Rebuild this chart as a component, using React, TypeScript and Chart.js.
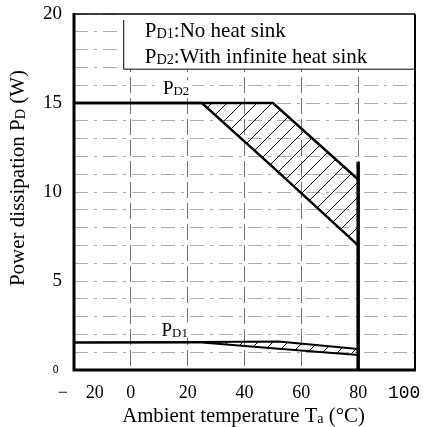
import { useEffect, useRef } from "react";
import { Chart, registerables } from "chart.js";

Chart.register(...registerables);

// ---- data ----
const xTickValues = [-20, 0, 20, 40, 60, 80, 100];
const xTickLabels = ["   −    20", "0", "20", "40", "60", "80", "100  "];
const yLabelValues = [0, 5, 10, 15, 20];
const yLabelTexts = ["0 ", "5", "10", "15", "20"];

// PD2 (with infinite heat sink): upper and lower boundary of hatched band
const pd2UpperTemp = [-20, 25, 50, 80];
const pd2UpperPower = [15, 15, 15, 10.7];
const pd2LowerTemp = [-20, 25, 50, 80];
const pd2LowerPower = [15, 15, 11.4, 7.0];

// PD1 (no heat sink)
const pd1UpperTemp = [-20, 25, 52, 80];
const pd1UpperPower = [1.55, 1.57, 1.6, 1.18];
const pd1LowerTemp = [-20, 25, 52, 80];
const pd1LowerPower = [1.55, 1.55, 1.2, 0.84];

// Cut-off at 80 °C
const cutoffTemp = [80, 80];
const cutoffPower = [0, 11.7];

const SERIF = "'Liberation Serif', 'Times New Roman', serif";

type Part = { t: string; sub?: boolean };

function richWidth(ctx: CanvasRenderingContext2D, parts: Part[], size: number) {
  const subSize = size * 0.68;
  return parts.reduce((w, p) => {
    ctx.font = `${p.sub ? subSize : size}px ${SERIF}`;
    return w + ctx.measureText(p.t).width;
  }, 0);
}

function drawRich(
  ctx: CanvasRenderingContext2D,
  parts: Part[],
  x: number,
  y: number,
  size: number,
  align: "left" | "center" = "left"
) {
  const subSize = size * 0.68;
  const total = richWidth(ctx, parts, size);
  let cx = align === "center" ? x - total / 2 : x;
  ctx.textAlign = "left";
  ctx.textBaseline = "alphabetic";
  ctx.fillStyle = "#000";
  parts.forEach((p) => {
    ctx.font = `${p.sub ? subSize : size}px ${SERIF}`;
    ctx.fillText(p.t, cx, p.sub ? y + size * 0.05 : y);
    cx += ctx.measureText(p.t).width;
  });
}

function makeHatch(): CanvasPattern | string {
  const s = 15;
  const c = document.createElement("canvas");
  c.width = s;
  c.height = s;
  const g = c.getContext("2d");
  if (!g) return "rgba(0,0,0,0.2)";
  g.strokeStyle = "#000";
  g.lineWidth = 1;
  g.beginPath();
  g.moveTo(0, s);
  g.lineTo(s, 0);
  g.moveTo(-s / 2, s / 2);
  g.lineTo(s / 2, -s / 2);
  g.moveTo(s / 2, s * 1.5);
  g.lineTo(s * 1.5, s / 2);
  g.stroke();
  return g.createPattern(c, "repeat") || "rgba(0,0,0,0.2)";
}

const pts = (xs: number[], ys: number[]) => xs.map((x, i) => ({ x, y: ys[i] }));

export default function App() {
  const ref = useRef<HTMLCanvasElement | null>(null);

  useEffect(() => {
    if (!ref.current) return;
    const hatch = makeHatch();

    const labelWithBg = (ctx: CanvasRenderingContext2D, parts: Part[], x: number, y: number, size: number) => {
      const w = richWidth(ctx, parts, size);
      ctx.fillStyle = "#fff";
      ctx.fillRect(x - 3, y - size * 0.72, w + 6, size * 0.78);
      drawRich(ctx, parts, x, y, size);
    };

    const overlay = {
      id: "overlay",
      beforeDatasetsDraw(chart: any) {
        const { ctx, chartArea: a, scales } = chart;
        const xs = scales.x;
        const ys = scales.y;
        ctx.save();
        // white legend box background (hides grid)
        const bx = xs.getPixelForValue(-2.5);
        const by = ys.getPixelForValue(16.9);
        ctx.fillStyle = "#fff";
        ctx.fillRect(bx, a.top, a.right - bx, by - a.top);
        // curve labels with white background
        labelWithBg(ctx, [{ t: "P" }, { t: "D2", sub: true }], xs.getPixelForValue(11.3), ys.getPixelForValue(15) - 9, 19);
        labelWithBg(ctx, [{ t: "P" }, { t: "D1", sub: true }], xs.getPixelForValue(10.8), ys.getPixelForValue(1.55) - 6, 19);
        ctx.restore();
      },
      afterDraw(chart: any) {
        const { ctx, chartArea: a, scales } = chart;
        const xs = scales.x;
        const ys = scales.y;
        ctx.save();
        // frame
        ctx.strokeStyle = "#000";
        ctx.setLineDash([]);
        ctx.lineWidth = 1.5;
        ctx.beginPath();
        ctx.moveTo(a.left, a.top);
        ctx.lineTo(a.right, a.top);
        ctx.stroke();
        ctx.lineWidth = 2;
        ctx.beginPath();
        ctx.moveTo(a.right, a.top);
        ctx.lineTo(a.right, a.bottom);
        ctx.stroke();
        ctx.lineWidth = 3;
        ctx.beginPath();
        ctx.moveTo(a.left, a.top - 1);
        ctx.lineTo(a.left, a.bottom);
        ctx.lineTo(a.right + 1, a.bottom);
        ctx.stroke();

        // legend box
        const bx = xs.getPixelForValue(-2.5);
        const by = ys.getPixelForValue(16.9);
        ctx.lineWidth = 1;
        ctx.beginPath();
        ctx.moveTo(bx, a.top + 6);
        ctx.lineTo(bx, by);
        ctx.lineTo(a.right, by);
        ctx.stroke();
        drawRich(ctx, [{ t: "P" }, { t: "D1", sub: true }, { t: ":No heat sink" }], bx + 21, a.top + 23, 21);
        drawRich(
          ctx,
          [{ t: "P" }, { t: "D2", sub: true }, { t: ":With infinite heat sink" }],
          bx + 21,
          a.top + 49,
          21
        );

        // axis titles
        drawRich(
          ctx,
          [{ t: "Ambient temperature T" }, { t: "a", sub: true }, { t: " (°C)" }],
          (a.left + a.right) / 2 - 1,
          422,
          20.8,
          "center"
        );
        ctx.translate(24, 178);
        ctx.rotate(-Math.PI / 2);
        drawRich(ctx, [{ t: "Power dissipation P" }, { t: "D", sub: true }, { t: " (W)" }], 0, 0, 21, "center");
        ctx.restore();
      },
    };

    const lineDs = (label: string, xs: number[], ys: number[], width: number, fill: any) => ({
      label,
      data: pts(xs, ys),
      borderColor: "#000",
      borderWidth: width,
      pointRadius: 0,
      tension: 0,
      fill,
      backgroundColor: hatch,
    });

    const chart = new Chart(ref.current, {
      type: "line",
      data: {
        datasets: [
          lineDs("PD2 upper", pd2UpperTemp, pd2UpperPower, 2.5, "+1"),
          lineDs("PD2 lower", pd2LowerTemp, pd2LowerPower, 2.5, false),
          lineDs("PD1 upper", pd1UpperTemp, pd1UpperPower, 2, "+1"),
          lineDs("PD1 lower", pd1LowerTemp, pd1LowerPower, 2, false),
          lineDs("80 °C cut-off", cutoffTemp, cutoffPower, 3.5, false),
        ],
      },
      plugins: [overlay],
      options: {
        animation: false,
        responsive: false,
        devicePixelRatio: 1,
        layout: { padding: { top: 14, right: 14, left: 0, bottom: 0 } },
        plugins: { legend: { display: false }, tooltip: { enabled: false }, title: { display: false } },
        scales: {
          x: {
            type: "linear",
            min: -20,
            max: 100,
            afterFit: (s: any) => {
              s.height = 57;
              s.paddingLeft = 0;
              s.paddingRight = 0;
            },
            afterBuildTicks: (s: any) => {
              s.ticks = xTickValues.map((v) => ({ value: v }));
            },
            ticks: {
              autoSkip: false,
              maxRotation: 0,
              padding: 12,
              color: "#000",
              callback: (v: any) => {
                const i = xTickValues.indexOf(Number(v));
                return i >= 0 ? xTickLabels[i] : "";
              },
              font: (c: any) =>
                c.tick && c.tick.value === 100
                  ? { family: "'Liberation Mono', monospace", size: 18 }
                  : { family: SERIF, size: 18 },
            },
            grid: { color: "rgba(0,0,0,0.55)", lineWidth: 1, drawTicks: false },
            border: { display: false, dash: [16, 5] },
          },
          y: {
            type: "linear",
            min: 0,
            max: 20,
            afterFit: (s: any) => {
              s.width = 74;
              s.paddingTop = 0;
              s.paddingBottom = 0;
            },
            ticks: {
              stepSize: 1,
              maxTicksLimit: 30,
              autoSkip: false,
              padding: 12,
              color: "#000",
              callback: (v: any) => {
                const i = yLabelValues.indexOf(Number(v));
                return i >= 0 ? yLabelTexts[i] : "";
              },
              font: (c: any) =>
                c.tick && c.tick.value === 0
                  ? { family: "'DejaVu Sans', sans-serif", size: 10 }
                  : { family: SERIF, size: 19 },
            },
            grid: { color: "rgba(0,0,0,0.32)", lineWidth: 1, drawTicks: false },
            border: { display: false, dash: [14, 6, 3, 6] },
          },
        },
      },
    } as any);

    return () => chart.destroy();
  }, []);

  return (
    <div style={{ position: "fixed", left: 0, top: 0, width: 429, height: 427, background: "#fff" }}>
      <canvas ref={ref} width={429} height={427} style={{ display: "block" }} />
    </div>
  );
}
